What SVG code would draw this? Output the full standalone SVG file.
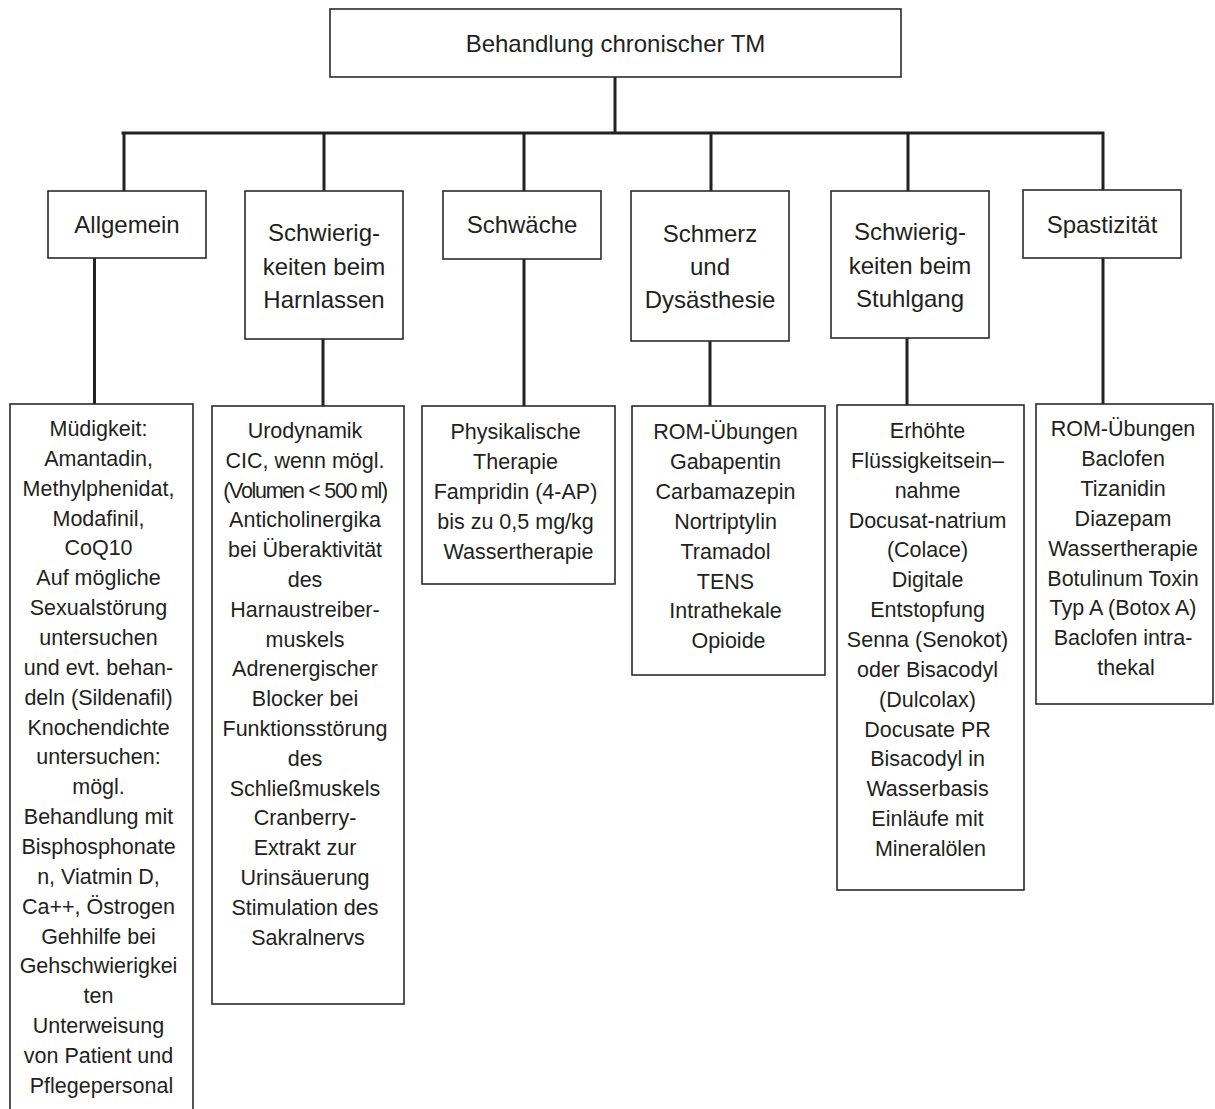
<svg xmlns="http://www.w3.org/2000/svg" width="1215" height="1109" viewBox="0 0 1215 1109">
<style>
.box{fill:#fff;stroke:#2b2b2b;stroke-width:1.6}
.con{stroke:#222;stroke-width:3;fill:none;stroke-linecap:square}
.h{font-family:"Liberation Sans",Arial,sans-serif;font-size:24px;fill:#231f20;text-anchor:middle}
.t{font-family:"Liberation Sans",Arial,sans-serif;font-size:21.5px;fill:#231f20;text-anchor:middle}
</style>
<rect width="1215" height="1109" fill="#fff"/>
<g id="connectors">
<path class="con" d="M615 77V133M123 133H1103M124 133V191M324 133V189M524 133V191M711 133V191M908 133V191M1103 133V190"/>
<path class="con" d="M94.5 258V404M323 339V406M524 259V406M710 341V406M907 338V405M1103 258V404"/>
</g>
<g id="root">
<rect class="box" x="330" y="9" width="571" height="68"/>
<text class="h" x="615.5" y="52">Behandlung chronischer TM</text>
</g>
<g id="allgemein">
<rect class="box" x="48" y="191" width="158" height="67"/>
<text class="h" x="127" y="233">Allgemein</text>
</g>
<g id="harnlassen">
<rect class="box" x="245" y="191" width="158" height="148"/>
<text class="h" x="324" y="241">Schwierig-</text>
<text class="h" x="324" y="275">keiten beim</text>
<text class="h" x="324" y="308">Harnlassen</text>
</g>
<g id="schwaeche">
<rect class="box" x="443" y="191" width="158" height="68"/>
<text class="h" x="522" y="233">Schwäche</text>
</g>
<g id="schmerz">
<rect class="box" x="631" y="191" width="158" height="150"/>
<text class="h" x="710" y="242">Schmerz</text>
<text class="h" x="710" y="275">und</text>
<text class="h" x="710" y="308">Dysästhesie</text>
</g>
<g id="stuhlgang">
<rect class="box" x="831" y="191" width="158" height="147"/>
<text class="h" x="910" y="240">Schwierig-</text>
<text class="h" x="910" y="274">keiten beim</text>
<text class="h" x="910" y="307">Stuhlgang</text>
</g>
<g id="spastizitaet">
<rect class="box" x="1023" y="190" width="158" height="68"/>
<text class="h" x="1102" y="233">Spastizität</text>
</g>
<g id="allgemein-detail">
<rect class="box" x="10" y="404" width="183" height="720"/>
<text class="t" x="101.5" y="436">
<tspan x="101.5" dy="0">Müdigkeit:</tspan>
<tspan x="101.5" dy="29.86">Amantadin,</tspan>
<tspan x="101.5" dy="29.86">Methylphenidat,</tspan>
<tspan x="101.5" dy="29.86">Modafinil,</tspan>
<tspan x="101.5" dy="29.86">CoQ10</tspan>
<tspan x="101.5" dy="29.86">Auf mögliche</tspan>
<tspan x="101.5" dy="29.86">Sexualstörung</tspan>
<tspan x="101.5" dy="29.86">untersuchen</tspan>
<tspan x="101.5" dy="29.86">und evt. behan-</tspan>
<tspan x="101.5" dy="29.86">deln (Sildenafil)</tspan>
<tspan x="101.5" dy="29.86">Knochendichte</tspan>
<tspan x="101.5" dy="29.86">untersuchen:</tspan>
<tspan x="101.5" dy="29.86">mögl.</tspan>
<tspan x="101.5" dy="29.86">Behandlung mit</tspan>
<tspan x="101.5" dy="29.86">Bisphosphonate</tspan>
<tspan x="101.5" dy="29.86">n, Viatmin D,</tspan>
<tspan x="101.5" dy="29.86">Ca++, Östrogen</tspan>
<tspan x="101.5" dy="29.86">Gehhilfe bei</tspan>
<tspan x="101.5" dy="29.86">Gehschwierigkei</tspan>
<tspan x="101.5" dy="29.86">ten</tspan>
<tspan x="101.5" dy="29.86">Unterweisung</tspan>
<tspan x="101.5" dy="29.86">von Patient und</tspan>
<tspan x="101.5" dy="29.86">Pflegepersonal</tspan>
</text>
</g>
<g id="harnlassen-detail">
<rect class="box" x="212" y="406" width="192" height="598"/>
<text class="t" x="308" y="438">
<tspan x="308" dy="0">Urodynamik</tspan>
<tspan x="308" dy="29.8">CIC, wenn mögl.</tspan>
<tspan x="308" dy="29.8" letter-spacing="-1.3">(Volumen &lt; 500 ml)</tspan>
<tspan x="308" dy="29.8">Anticholinergika</tspan>
<tspan x="308" dy="29.8">bei Überaktivität</tspan>
<tspan x="308" dy="29.8">des</tspan>
<tspan x="308" dy="29.8">Harnaustreiber-</tspan>
<tspan x="308" dy="29.8">muskels</tspan>
<tspan x="308" dy="29.8">Adrenergischer</tspan>
<tspan x="308" dy="29.8">Blocker bei</tspan>
<tspan x="308" dy="29.8">Funktionsstörung</tspan>
<tspan x="308" dy="29.8">des</tspan>
<tspan x="308" dy="29.8">Schließmuskels</tspan>
<tspan x="308" dy="29.8">Cranberry-</tspan>
<tspan x="308" dy="29.8">Extrakt zur</tspan>
<tspan x="308" dy="29.8">Urinsäuerung</tspan>
<tspan x="308" dy="29.8">Stimulation des</tspan>
<tspan x="308" dy="29.8">Sakralnervs</tspan>
</text>
</g>
<g id="schwaeche-detail">
<rect class="box" x="422" y="406" width="193" height="178"/>
<text class="t" x="518.5" y="439">
<tspan x="518.5" dy="0">Physikalische</tspan>
<tspan x="518.5" dy="29.9">Therapie</tspan>
<tspan x="518.5" dy="29.9">Fampridin (4-AP)</tspan>
<tspan x="518.5" dy="29.9">bis zu 0,5 mg/kg</tspan>
<tspan x="518.5" dy="29.9">Wassertherapie</tspan>
</text>
</g>
<g id="schmerz-detail">
<rect class="box" x="632" y="406" width="193" height="269"/>
<text class="t" x="728.5" y="439">
<tspan x="728.5" dy="0">ROM-Übungen</tspan>
<tspan x="728.5" dy="29.9">Gabapentin</tspan>
<tspan x="728.5" dy="29.9">Carbamazepin</tspan>
<tspan x="728.5" dy="29.9">Nortriptylin</tspan>
<tspan x="728.5" dy="29.9">Tramadol</tspan>
<tspan x="728.5" dy="29.9">TENS</tspan>
<tspan x="728.5" dy="29.9">Intrathekale</tspan>
<tspan x="728.5" dy="29.9">Opioide</tspan>
</text>
</g>
<g id="stuhlgang-detail">
<rect class="box" x="837" y="405" width="187" height="485"/>
<text class="t" x="930.5" y="438">
<tspan x="930.5" dy="0">Erhöhte</tspan>
<tspan x="930.5" dy="29.86">Flüssigkeitsein–</tspan>
<tspan x="930.5" dy="29.86">nahme</tspan>
<tspan x="930.5" dy="29.86">Docusat-natrium</tspan>
<tspan x="930.5" dy="29.86">(Colace)</tspan>
<tspan x="930.5" dy="29.86">Digitale</tspan>
<tspan x="930.5" dy="29.86">Entstopfung</tspan>
<tspan x="930.5" dy="29.86">Senna (Senokot)</tspan>
<tspan x="930.5" dy="29.86">oder Bisacodyl</tspan>
<tspan x="930.5" dy="29.86">(Dulcolax)</tspan>
<tspan x="930.5" dy="29.86">Docusate PR</tspan>
<tspan x="930.5" dy="29.86">Bisacodyl in</tspan>
<tspan x="930.5" dy="29.86">Wasserbasis</tspan>
<tspan x="930.5" dy="29.86">Einläufe mit</tspan>
<tspan x="930.5" dy="29.86">Mineralölen</tspan>
</text>
</g>
<g id="spastizitaet-detail">
<rect class="box" x="1036" y="404" width="177" height="300"/>
<text class="t" x="1126" y="436">
<tspan x="1126" dy="0">ROM-Übungen</tspan>
<tspan x="1126" dy="29.9">Baclofen</tspan>
<tspan x="1126" dy="29.9">Tizanidin</tspan>
<tspan x="1126" dy="29.9">Diazepam</tspan>
<tspan x="1126" dy="29.9">Wassertherapie</tspan>
<tspan x="1126" dy="29.9">Botulinum Toxin</tspan>
<tspan x="1126" dy="29.9">Typ A (Botox A)</tspan>
<tspan x="1126" dy="29.9">Baclofen intra-</tspan>
<tspan x="1126" dy="29.9">thekal</tspan>
</text>
</g>
</svg>
